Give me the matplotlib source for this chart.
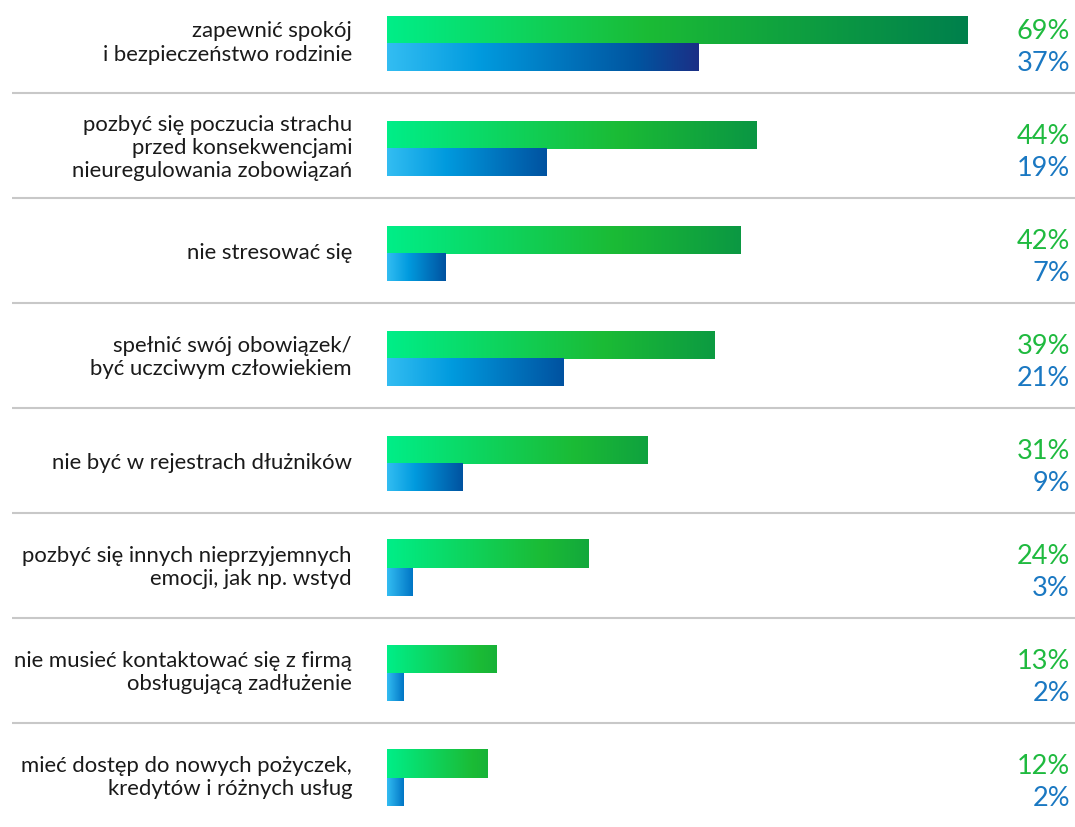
import numpy as np
import matplotlib
matplotlib.use("Agg")
import matplotlib.pyplot as plt
from matplotlib.colors import to_rgb

categories = [
    "zapewnić spokój\ni bezpieczeństwo rodzinie",
    "pozbyć się poczucia strachu\nprzed konsekwencjami\nnieuregulowania zobowiązań",
    "nie stresować się",
    "spełnić swój obowiązek/\nbyć uczciwym człowiekiem",
    "nie być w rejestrach dłużników",
    "pozbyć się innych nieprzyjemnych\nemocji, jak np. wstyd",
    "nie musieć kontaktować się z firmą\nobsługującą zadłużenie",
    "mieć dostęp do nowych pożyczek,\nkredytów i różnych usług",
]
green_values = [69, 44, 42, 39, 31, 24, 13, 12]
blue_values = [37, 19, 7, 21, 9, 3, 2, 2]

plt.rcParams['font.family'] = ['Lato', 'DejaVu Sans']

W, H = 1075, 827
fig = plt.figure(figsize=(W / 100, H / 100), dpi=100)
ax = fig.add_axes([387 / W, 0, (W - 387) / W, 1])
px_per_pct = 8.406
pitch = 104.9
xmax = (W - 387) / px_per_pct
ax.set_xlim(0, xmax)
ax.set_ylim((H - 44) / pitch, -44 / pitch)
ax.axis('off')

bh_g = 28 / pitch
bh_b = 27.5 / pitch


def lerp(c1, c2, t):
    c1 = np.array(to_rgb(c1)); c2 = np.array(to_rgb(c2))
    return c1 + (c2 - c1) * t


def green_grad(v, n=256):
    t = np.linspace(0, 1, n)
    peak = np.clip(0.85 - 0.00714 * (v - 13), 0.4, 0.9)
    d_end = np.clip(0.15 + (v - 13) * 0.85 / 56, 0, 1)
    out = np.zeros((n, 3))
    for i, ti in enumerate(t):
        if ti <= peak:
            out[i] = lerp('#00ee88', '#1bbb35', ti / peak)
        else:
            out[i] = lerp('#1bbb35', '#00804c', d_end * (ti - peak) / (1 - peak))
    return out


def blue_grad(v, n=256):
    t = np.linspace(0, 1, n)
    if v >= 30:
        stops = [(0, '#33bdf2'), (0.3, '#009ade'), (0.8, '#0055a0'), (1.0, '#1b2f86')]
    elif v <= 3:
        stops = [(0, '#33bdf2'), (1.0, '#0075c5')]
    else:
        stops = [(0, '#33bdf2'), (0.37, '#009ade'), (1.0, '#0052a0')]
    out = np.zeros((n, 3))
    for i, ti in enumerate(t):
        for (p0, c0), (p1, c1) in zip(stops[:-1], stops[1:]):
            if p0 <= ti <= p1:
                out[i] = lerp(c0, c1, (ti - p0) / (p1 - p0))
                break
    return out


for i, (cat, g, b) in enumerate(zip(categories, green_values, blue_values)):
    gimg = green_grad(g)[None, :, :]
    ax.imshow(gimg, extent=(0, g, i, i - bh_g), aspect='auto', interpolation='bilinear', zorder=2)
    bimg = blue_grad(b)[None, :, :]
    ax.imshow(bimg, extent=(0, b, i + bh_b, i), aspect='auto', interpolation='bilinear', zorder=2)

    ax.text(-35 / px_per_pct, i - 1 / pitch, cat, ha='right', va='center', fontsize=15.9,
            color='#1a1a1a', linespacing=1.2, clip_on=False)
    ax.text(xmax - 5 / px_per_pct, i - 12 / pitch, f"{g}%", ha='right', va='center',
            fontsize=19.5, color='#1fba3f', clip_on=False)
    ax.text(xmax - 5 / px_per_pct, i + 20 / pitch, f"{b}%", ha='right', va='center',
            fontsize=19.5, color='#1a78c2', clip_on=False)

    if i < len(categories) - 1:
        ax.hlines(i + 0.47, -375 / px_per_pct, xmax, color='#c8c8c8', lw=1.5,
                  clip_on=False, zorder=1)

ax.set_xlim(0, xmax)
ax.set_ylim((H - 44) / pitch, -44 / pitch)
fig.savefig('out.png', dpi=100)
